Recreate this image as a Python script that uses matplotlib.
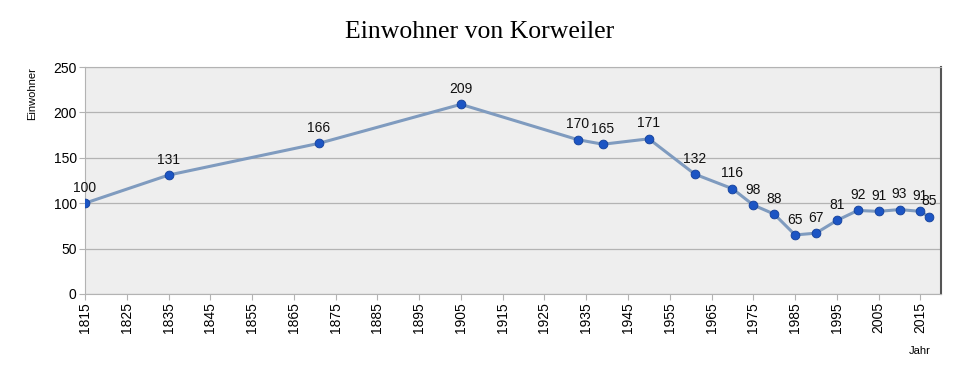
import matplotlib
matplotlib.use('Agg')
import matplotlib.pyplot as plt
import numpy as np

jahre = [1815, 1835, 1871, 1905, 1933, 1939, 1950, 1961, 1970, 1975, 1980,
         1985, 1990, 1995, 2000, 2005, 2010, 2015, 2017]
einwohner = [100, 131, 166, 209, 170, 165, 171, 132, 116, 98, 88,
             65, 67, 81, 92, 91, 93, 91, 85]
xticks = list(range(1815, 2016, 10))

plt.rcParams['font.family'] = ['Liberation Sans', 'DejaVu Sans']

fig = plt.figure(figsize=(9.6, 3.73), dpi=100)
ax = fig.add_axes([0.0885, 0.212, 0.892, 0.608])
ax.set_facecolor('#eeeeee')

ax.plot(jahre, einwohner, color='#7f9bbf', lw=2.2, zorder=3)
ax.scatter(jahre, einwohner, s=40, color='#1c55c4', edgecolors='#123f99',
           linewidths=0.6, zorder=4)
for x, y in zip(jahre, einwohner):
    ax.annotate(str(y), (x, y), xytext=(0, 6), textcoords='offset points',
                ha='center', va='bottom', fontsize=10, color='#111111', zorder=5)

ax.set_xlim(1815, 2020)
ax.set_ylim(0, 250)
ax.set_yticks(range(0, 251, 50))
ax.set_xticks(xticks)
ax.set_xticklabels([str(t) for t in xticks], rotation=90, fontsize=10)
ax.tick_params(axis='y', labelsize=10, length=4, color='#b3b3b3', pad=2)
ax.tick_params(axis='x', length=4, color='#b3b3b3', pad=2)
ax.yaxis.grid(True, color='#b3b3b3', lw=0.9)
ax.set_axisbelow(True)
for s in ['top', 'left', 'bottom']:
    ax.spines[s].set_color('#b3b3b3')
ax.spines['right'].set_color('#555555')
ax.spines['right'].set_linewidth(1.5)

fig.text(0.5, 0.915, 'Einwohner von Korweiler', ha='center', va='center',
         fontsize=18.5, family='Liberation Serif')
fig.text(0.033, 0.82, 'Einwohner', rotation=90, ha='center', va='top', fontsize=8)
fig.text(0.958, 0.06, 'Jahr', ha='center', va='center', fontsize=8)

fig.savefig('out.png', dpi=100)
